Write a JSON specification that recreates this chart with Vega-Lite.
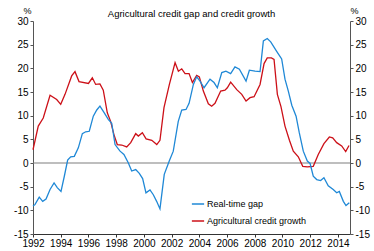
{
  "$schema": "https://vega.github.io/schema/vega-lite/v6.json",
  "width": 317,
  "height": 213,
  "autosize": {"type": "none"},
  "padding": {"left": 33, "top": 21, "right": 24, "bottom": 17},
  "config": {"view": {"stroke": null}, "font": "Liberation Sans"},
  "title": {"text": "Agricultural credit gap and credit growth", "fontSize": 9.5, "fontWeight": "normal", "anchor": "middle", "color": "#000", "offset": -12},
  "datasets": {
    "series": [
      {"year": 1992.0, "value": 2.8, "series": "Agricultural credit growth"},
      {"year": 1992.38, "value": 7.8, "series": "Agricultural credit growth"},
      {"year": 1992.74, "value": 9.5, "series": "Agricultural credit growth"},
      {"year": 1993.23, "value": 14.3, "series": "Agricultural credit growth"},
      {"year": 1993.71, "value": 13.4, "series": "Agricultural credit growth"},
      {"year": 1994.0, "value": 12.4, "series": "Agricultural credit growth"},
      {"year": 1994.31, "value": 14.5, "series": "Agricultural credit growth"},
      {"year": 1994.79, "value": 18.4, "series": "Agricultural credit growth"},
      {"year": 1995.03, "value": 19.3, "series": "Agricultural credit growth"},
      {"year": 1995.32, "value": 17.2, "series": "Agricultural credit growth"},
      {"year": 1996.0, "value": 16.8, "series": "Agricultural credit growth"},
      {"year": 1996.28, "value": 18.0, "series": "Agricultural credit growth"},
      {"year": 1996.52, "value": 16.6, "series": "Agricultural credit growth"},
      {"year": 1996.83, "value": 16.7, "series": "Agricultural credit growth"},
      {"year": 1997.07, "value": 15.4, "series": "Agricultural credit growth"},
      {"year": 1997.36, "value": 10.6, "series": "Agricultural credit growth"},
      {"year": 1997.6, "value": 8.8, "series": "Agricultural credit growth"},
      {"year": 1997.84, "value": 6.0, "series": "Agricultural credit growth"},
      {"year": 1998.08, "value": 3.9, "series": "Agricultural credit growth"},
      {"year": 1998.4, "value": 3.8, "series": "Agricultural credit growth"},
      {"year": 1998.76, "value": 3.4, "series": "Agricultural credit growth"},
      {"year": 1999.05, "value": 4.3, "series": "Agricultural credit growth"},
      {"year": 1999.41, "value": 6.2, "series": "Agricultural credit growth"},
      {"year": 1999.6, "value": 5.7, "series": "Agricultural credit growth"},
      {"year": 1999.89, "value": 6.4, "series": "Agricultural credit growth"},
      {"year": 2000.16, "value": 5.1, "series": "Agricultural credit growth"},
      {"year": 2000.57, "value": 4.8, "series": "Agricultural credit growth"},
      {"year": 2000.93, "value": 3.9, "series": "Agricultural credit growth"},
      {"year": 2001.16, "value": 4.8, "series": "Agricultural credit growth"},
      {"year": 2001.45, "value": 11.7, "series": "Agricultural credit growth"},
      {"year": 2001.84, "value": 16.6, "series": "Agricultural credit growth"},
      {"year": 2002.25, "value": 21.2, "series": "Agricultural credit growth"},
      {"year": 2002.49, "value": 19.4, "series": "Agricultural credit growth"},
      {"year": 2002.73, "value": 19.9, "series": "Agricultural credit growth"},
      {"year": 2002.97, "value": 18.9, "series": "Agricultural credit growth"},
      {"year": 2003.26, "value": 18.9, "series": "Agricultural credit growth"},
      {"year": 2003.5, "value": 17.0, "series": "Agricultural credit growth"},
      {"year": 2003.81, "value": 18.5, "series": "Agricultural credit growth"},
      {"year": 2004.0, "value": 18.2, "series": "Agricultural credit growth"},
      {"year": 2004.29, "value": 15.2, "series": "Agricultural credit growth"},
      {"year": 2004.65, "value": 12.5, "series": "Agricultural credit growth"},
      {"year": 2004.89, "value": 12.0, "series": "Agricultural credit growth"},
      {"year": 2005.13, "value": 12.6, "series": "Agricultural credit growth"},
      {"year": 2005.54, "value": 15.2, "series": "Agricultural credit growth"},
      {"year": 2005.85, "value": 15.4, "series": "Agricultural credit growth"},
      {"year": 2006.02, "value": 15.9, "series": "Agricultural credit growth"},
      {"year": 2006.26, "value": 17.1, "series": "Agricultural credit growth"},
      {"year": 2006.7, "value": 15.5, "series": "Agricultural credit growth"},
      {"year": 2007.06, "value": 14.5, "series": "Agricultural credit growth"},
      {"year": 2007.37, "value": 13.1, "series": "Agricultural credit growth"},
      {"year": 2007.66, "value": 13.8, "series": "Agricultural credit growth"},
      {"year": 2007.95, "value": 14.0, "series": "Agricultural credit growth"},
      {"year": 2008.38, "value": 16.6, "series": "Agricultural credit growth"},
      {"year": 2008.67, "value": 21.0, "series": "Agricultural credit growth"},
      {"year": 2008.9, "value": 22.2, "series": "Agricultural credit growth"},
      {"year": 2009.2, "value": 22.2, "series": "Agricultural credit growth"},
      {"year": 2009.39, "value": 21.9, "series": "Agricultural credit growth"},
      {"year": 2009.63, "value": 14.5, "series": "Agricultural credit growth"},
      {"year": 2009.89, "value": 11.9, "series": "Agricultural credit growth"},
      {"year": 2010.18, "value": 7.8, "series": "Agricultural credit growth"},
      {"year": 2010.5, "value": 4.8, "series": "Agricultural credit growth"},
      {"year": 2010.78, "value": 2.5, "series": "Agricultural credit growth"},
      {"year": 2011.14, "value": 1.3, "series": "Agricultural credit growth"},
      {"year": 2011.46, "value": -0.7, "series": "Agricultural credit growth"},
      {"year": 2011.79, "value": -0.8, "series": "Agricultural credit growth"},
      {"year": 2012.22, "value": -0.7, "series": "Agricultural credit growth"},
      {"year": 2012.58, "value": 1.8, "series": "Agricultural credit growth"},
      {"year": 2012.99, "value": 4.1, "series": "Agricultural credit growth"},
      {"year": 2013.38, "value": 5.5, "series": "Agricultural credit growth"},
      {"year": 2013.62, "value": 5.3, "series": "Agricultural credit growth"},
      {"year": 2013.91, "value": 4.3, "series": "Agricultural credit growth"},
      {"year": 2014.27, "value": 3.6, "series": "Agricultural credit growth"},
      {"year": 2014.56, "value": 2.4, "series": "Agricultural credit growth"},
      {"year": 2014.8, "value": 3.7, "series": "Agricultural credit growth"},
      {"year": 1992.0, "value": -9.1, "series": "Real-time gap"},
      {"year": 1992.14, "value": -8.8, "series": "Real-time gap"},
      {"year": 1992.45, "value": -7.2, "series": "Real-time gap"},
      {"year": 1992.7, "value": -8.1, "series": "Real-time gap"},
      {"year": 1992.94, "value": -7.6, "series": "Real-time gap"},
      {"year": 1993.23, "value": -5.6, "series": "Real-time gap"},
      {"year": 1993.52, "value": -4.2, "series": "Real-time gap"},
      {"year": 1993.75, "value": -5.2, "series": "Real-time gap"},
      {"year": 1994.02, "value": -6.0, "series": "Real-time gap"},
      {"year": 1994.26, "value": -2.8, "series": "Real-time gap"},
      {"year": 1994.5, "value": 0.6, "series": "Real-time gap"},
      {"year": 1994.72, "value": 1.3, "series": "Real-time gap"},
      {"year": 1994.98, "value": 1.4, "series": "Real-time gap"},
      {"year": 1995.27, "value": 3.2, "series": "Real-time gap"},
      {"year": 1995.56, "value": 6.2, "series": "Real-time gap"},
      {"year": 1995.8, "value": 6.6, "series": "Real-time gap"},
      {"year": 1996.06, "value": 6.7, "series": "Real-time gap"},
      {"year": 1996.35, "value": 9.9, "series": "Real-time gap"},
      {"year": 1996.6, "value": 11.2, "series": "Real-time gap"},
      {"year": 1996.83, "value": 12.0, "series": "Real-time gap"},
      {"year": 1997.12, "value": 10.7, "series": "Real-time gap"},
      {"year": 1997.43, "value": 9.2, "series": "Real-time gap"},
      {"year": 1997.68, "value": 8.4, "series": "Real-time gap"},
      {"year": 1997.92, "value": 3.9, "series": "Real-time gap"},
      {"year": 1998.28, "value": 2.5, "series": "Real-time gap"},
      {"year": 1998.56, "value": 1.8, "series": "Real-time gap"},
      {"year": 1998.88, "value": 0.0, "series": "Real-time gap"},
      {"year": 1999.12, "value": -1.7, "series": "Real-time gap"},
      {"year": 1999.41, "value": -1.4, "series": "Real-time gap"},
      {"year": 1999.67, "value": -2.2, "series": "Real-time gap"},
      {"year": 1999.91, "value": -3.3, "series": "Real-time gap"},
      {"year": 2000.15, "value": -6.3, "series": "Real-time gap"},
      {"year": 2000.44, "value": -5.7, "series": "Real-time gap"},
      {"year": 2000.68, "value": -6.7, "series": "Real-time gap"},
      {"year": 2000.92, "value": -8.1, "series": "Real-time gap"},
      {"year": 2001.16, "value": -9.7, "series": "Real-time gap"},
      {"year": 2001.47, "value": -2.4, "series": "Real-time gap"},
      {"year": 2001.83, "value": 0.4, "series": "Real-time gap"},
      {"year": 2002.12, "value": 2.5, "series": "Real-time gap"},
      {"year": 2002.48, "value": 8.8, "series": "Real-time gap"},
      {"year": 2002.73, "value": 11.2, "series": "Real-time gap"},
      {"year": 2003.04, "value": 11.3, "series": "Real-time gap"},
      {"year": 2003.26, "value": 12.6, "series": "Real-time gap"},
      {"year": 2003.57, "value": 16.6, "series": "Real-time gap"},
      {"year": 2003.81, "value": 18.2, "series": "Real-time gap"},
      {"year": 2004.05, "value": 17.3, "series": "Real-time gap"},
      {"year": 2004.34, "value": 15.9, "series": "Real-time gap"},
      {"year": 2004.77, "value": 17.7, "series": "Real-time gap"},
      {"year": 2005.06, "value": 17.0, "series": "Real-time gap"},
      {"year": 2005.3, "value": 15.9, "series": "Real-time gap"},
      {"year": 2005.62, "value": 19.1, "series": "Real-time gap"},
      {"year": 2005.92, "value": 19.4, "series": "Real-time gap"},
      {"year": 2006.26, "value": 18.9, "series": "Real-time gap"},
      {"year": 2006.57, "value": 20.3, "series": "Real-time gap"},
      {"year": 2006.89, "value": 19.8, "series": "Real-time gap"},
      {"year": 2007.37, "value": 17.3, "series": "Real-time gap"},
      {"year": 2007.61, "value": 19.6, "series": "Real-time gap"},
      {"year": 2008.02, "value": 19.4, "series": "Real-time gap"},
      {"year": 2008.38, "value": 19.3, "series": "Real-time gap"},
      {"year": 2008.62, "value": 25.8, "series": "Real-time gap"},
      {"year": 2008.9, "value": 26.3, "series": "Real-time gap"},
      {"year": 2009.15, "value": 25.6, "series": "Real-time gap"},
      {"year": 2009.58, "value": 23.6, "series": "Real-time gap"},
      {"year": 2009.94, "value": 22.0, "series": "Real-time gap"},
      {"year": 2010.18, "value": 17.7, "series": "Real-time gap"},
      {"year": 2010.42, "value": 15.2, "series": "Real-time gap"},
      {"year": 2010.67, "value": 12.2, "series": "Real-time gap"},
      {"year": 2010.98, "value": 9.9, "series": "Real-time gap"},
      {"year": 2011.21, "value": 6.4, "series": "Real-time gap"},
      {"year": 2011.5, "value": 2.5, "series": "Real-time gap"},
      {"year": 2011.79, "value": 0.4, "series": "Real-time gap"},
      {"year": 2011.99, "value": -0.1, "series": "Real-time gap"},
      {"year": 2012.22, "value": -2.8, "series": "Real-time gap"},
      {"year": 2012.47, "value": -3.5, "series": "Real-time gap"},
      {"year": 2012.75, "value": -3.7, "series": "Real-time gap"},
      {"year": 2012.99, "value": -3.1, "series": "Real-time gap"},
      {"year": 2013.3, "value": -4.8, "series": "Real-time gap"},
      {"year": 2013.66, "value": -5.6, "series": "Real-time gap"},
      {"year": 2013.91, "value": -6.3, "series": "Real-time gap"},
      {"year": 2014.1, "value": -6.0, "series": "Real-time gap"},
      {"year": 2014.39, "value": -8.1, "series": "Real-time gap"},
      {"year": 2014.58, "value": -9.0, "series": "Real-time gap"},
      {"year": 2014.82, "value": -8.4, "series": "Real-time gap"}
    ],
    "zero": [{"z": 0}]
  },
  "layer": [
    {
      "data": {"name": "zero"},
      "mark": {"type": "rule", "color": "#7f7f7f", "strokeWidth": 1.2},
      "encoding": {
        "y": {
          "field": "z", "type": "quantitative",
          "scale": {"domain": [-15, 30], "nice": false, "zero": false},
          "axis": {
            "orient": "right", "values": [-15, -10, -5, 0, 5, 10, 15, 20, 25, 30],
            "labelExpr": "datum.value < 0 ? '-' + abs(datum.value) : '' + datum.value",
            "grid": false, "tickSize": 3, "tickColor": "#555", "domainColor": "#555",
            "labelFontSize": 10, "labelColor": "#000", "labelPadding": 2,
            "title": "%", "titleAngle": 0, "titleFontSize": 9, "titleFontWeight": "normal",
            "titleX": 4, "titleY": -11, "titleAlign": "center", "titleBaseline": "middle"
          }
        }
      }
    },
    {
      "data": {"name": "series"},
      "mark": {"type": "line", "strokeWidth": 1.3},
      "encoding": {
        "x": {
          "field": "year", "type": "quantitative",
          "scale": {"domain": [1992, 2014.87], "nice": false, "zero": false},
          "axis": {
            "values": [1992, 1994, 1996, 1998, 2000, 2002, 2004, 2006, 2008, 2010, 2012, 2014],
            "format": "d", "grid": false, "title": null, "tickSize": 3,
            "tickColor": "#333", "domainColor": "#333", "labelFontSize": 10,
            "labelColor": "#000", "labelPadding": 1, "labelOverlap": false, "labelFlush": false
          }
        },
        "y": {
          "field": "value", "type": "quantitative",
          "scale": {"domain": [-15, 30], "nice": false, "zero": false},
          "axis": {
            "orient": "left", "values": [-15, -10, -5, 0, 5, 10, 15, 20, 25, 30],
            "labelExpr": "datum.value < 0 ? '-' + abs(datum.value) : '' + datum.value",
            "grid": false, "tickSize": 3, "tickColor": "#555", "domainColor": "#555",
            "labelFontSize": 10, "labelColor": "#000", "labelPadding": 2,
            "title": "%", "titleAngle": 0, "titleFontSize": 9, "titleFontWeight": "normal",
            "titleX": -6, "titleY": -11, "titleAlign": "center", "titleBaseline": "middle"
          }
        },
        "color": {
          "field": "series", "type": "nominal",
          "scale": {"domain": ["Real-time gap", "Agricultural credit growth"], "range": ["#1f88d6", "#cc1018"]},
          "legend": {
            "orient": "none", "legendX": 158, "legendY": 176, "title": null,
            "symbolType": "stroke", "symbolSize": 150, "symbolStrokeWidth": 1.5,
            "labelFontSize": 9, "labelColor": "#000", "rowPadding": 5, "labelOffset": 2
          }
        }
      }
    }
  ],
  "resolve": {"scale": {"y": "independent"}, "axis": {"y": "independent"}}
}
